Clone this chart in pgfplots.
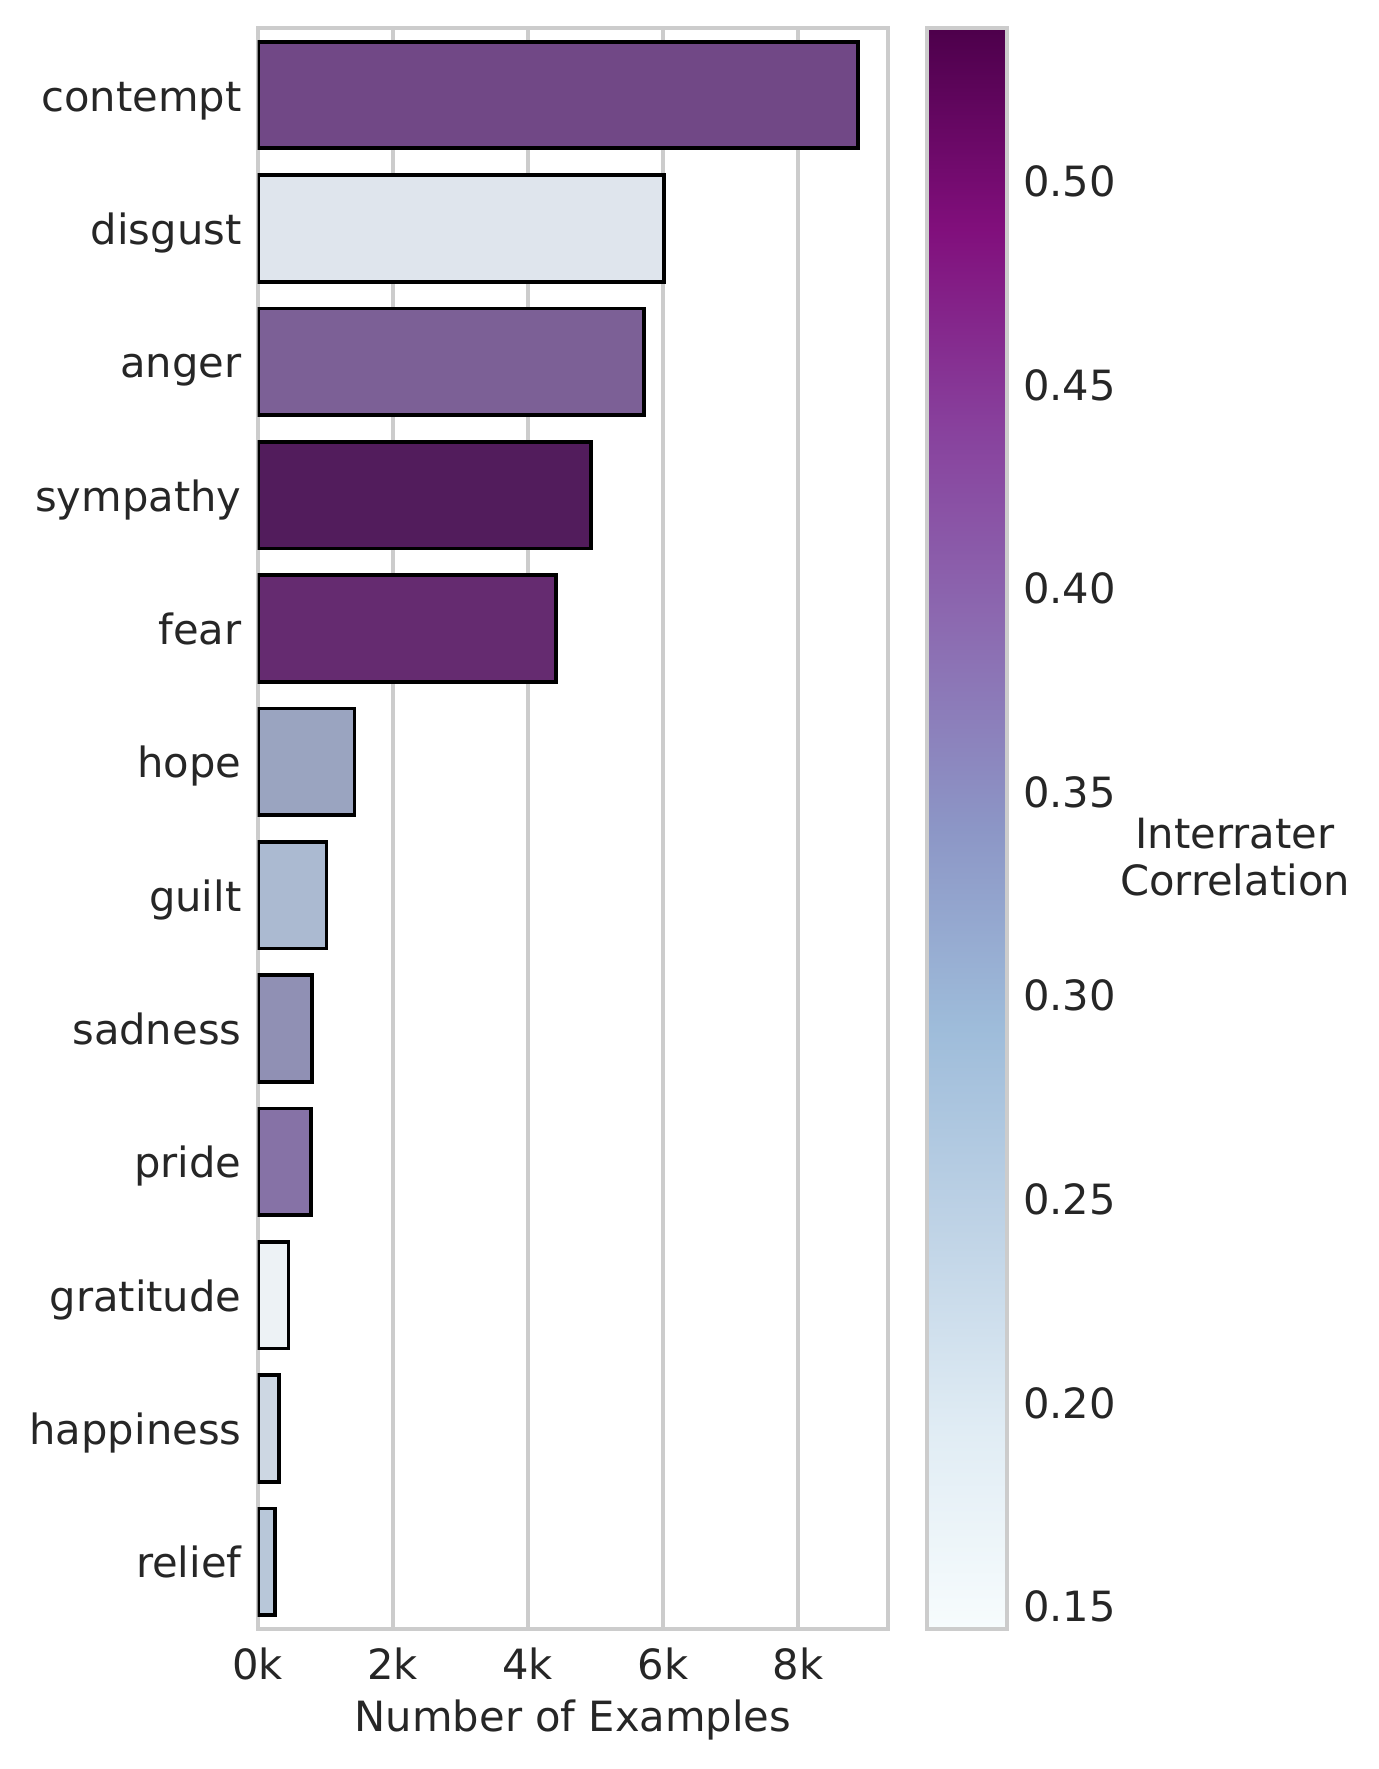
\documentclass[border=0pt]{standalone}
\usepackage{fontspec}
\setmainfont{DejaVu Sans}
\usepackage{pgfplots}
\pgfplotsset{compat=1.18}
\definecolor{textgray}{HTML}{262626}
\definecolor{gridgray}{HTML}{CCCCCC}
\definecolor{cContempt}{HTML}{714886}
\definecolor{cDisgust}{HTML}{DFE5ED}
\definecolor{cAnger}{HTML}{7C6096}
\definecolor{cSympathy}{HTML}{521C5C}
\definecolor{cFear}{HTML}{652B70}
\definecolor{cHope}{HTML}{9AA4C0}
\definecolor{cGuilt}{HTML}{ABBAD1}
\definecolor{cSadness}{HTML}{9090B4}
\definecolor{cPride}{HTML}{8672A6}
\definecolor{cGratitude}{HTML}{EDF2F5}
\definecolor{cHappiness}{HTML}{CDD7E3}
\definecolor{cRelief}{HTML}{B8C7D9}
\pgfplotsset{
  mybar/.style={xbar, bar width=0.8, bar shift=0pt, draw=black, line width=0.9bp, fill=#1},
}
\begin{document}
\fontsize{10bp}{12bp}\selectfont
\begin{tikzpicture}
\begin{axis}[
  name=ax,
  scale only axis, width=151.4bp, height=384.12bp,
  xmin=0, xmax=9340, ymin=-0.5, ymax=11.5, y dir=reverse,
  ytick={0,1,2,3,4,5,6,7,8,9,10,11},
  yticklabels={contempt,disgust,anger,sympathy,fear,hope,guilt,sadness,pride,gratitude,happiness,relief},
  xtick={0,2000,4000,6000,8000},
  xticklabels={0k,2k,4k,6k,8k},
  scaled x ticks=false,
  xmajorgrids, ymajorgrids=false,
  major grid style={gridgray, line width=1bp},
  axis line style={gridgray, line width=1bp},
  major tick length=0pt, tick style={draw=none},
  tick label style={font=\fontsize{10bp}{12bp}\selectfont, text=textgray, inner sep=0pt},
  yticklabel style={anchor=east, text height=7.68bp, text depth=0pt},
  yticklabel shift=3.7bp,
  xticklabel shift=4.3bp,
  xlabel={Number of Examples},
  xlabel style={font=\fontsize{10bp}{12bp}\selectfont, text=textgray, inner sep=0pt, yshift=-4.6bp},
]
\addplot[mybar=cContempt] coordinates {(8890,0)};
\addplot[mybar=cDisgust] coordinates {(6020,1)};
\addplot[mybar=cAnger] coordinates {(5720,2)};
\addplot[mybar=cSympathy] coordinates {(4940,3)};
\addplot[mybar=cFear] coordinates {(4420,4)};
\addplot[mybar=cHope] coordinates {(1435,5)};
\addplot[mybar=cGuilt] coordinates {(1020,6)};
\addplot[mybar=cSadness] coordinates {(800,7)};
\addplot[mybar=cPride] coordinates {(790,8)};
\addplot[mybar=cGratitude] coordinates {(457,9)};
\addplot[mybar=cHappiness] coordinates {(320,10)};
\addplot[mybar=cRelief] coordinates {(260,11)};
\end{axis}
\begin{axis}[
  name=cb,
  at={(ax.north east)}, anchor=north west, xshift=9.26bp,
  scale only axis, width=19.2bp, height=384.12bp,
  xmin=0, xmax=1, ymin=0.1446, ymax=0.5376,
  axis on top,
  xtick=\empty,
  ytick={0.15,0.2,0.25,0.3,0.35,0.4,0.45,0.5},
  yticklabel pos=right,
  axis line style={gridgray, line width=1bp},
  major tick length=0pt, tick style={draw=none},
  yticklabel style={font=\fontsize{10bp}{12bp}\selectfont, text=textgray, inner sep=0pt, anchor=west, text height=7.29bp, text depth=0pt,
    /pgf/number format/.cd, fixed, fixed zerofill, precision=2, assume math mode=true},
  yticklabel shift=3.7bp,
  colormap={bupu}{rgb255=(247,252,253) rgb255=(224,236,244) rgb255=(191,211,230) rgb255=(158,188,218) rgb255=(140,150,198) rgb255=(140,107,177) rgb255=(136,65,157) rgb255=(129,15,124) rgb255=(77,0,75)},
  point meta min=0.1446, point meta max=0.5376,
]
\addplot[surf, shader=interp, mesh/cols=2, point meta=y] coordinates {
(0,0.1446) (1,0.1446)
(0,0.1937) (1,0.1937)
(0,0.2428) (1,0.2428)
(0,0.2920) (1,0.2920)
(0,0.3411) (1,0.3411)
(0,0.3902) (1,0.3902)
(0,0.4394) (1,0.4394)
(0,0.4885) (1,0.4885)
(0,0.5376) (1,0.5376)
};
\end{axis}
\node[anchor=base, text=textgray, inner sep=0pt] at ([xshift=83.2bp, yshift=-196.8bp]ax.north east) {Interrater};
\node[anchor=base, text=textgray, inner sep=0pt] at ([xshift=83.2bp, yshift=-208.08bp]ax.north east) {Correlation};
\pgfresetboundingbox
\path ([xshift=-61.85bp, yshift=-33.7bp]ax.south west) rectangle ([xshift=117.75bp, yshift=6.8bp]ax.north east);
\end{tikzpicture}
\end{document}
